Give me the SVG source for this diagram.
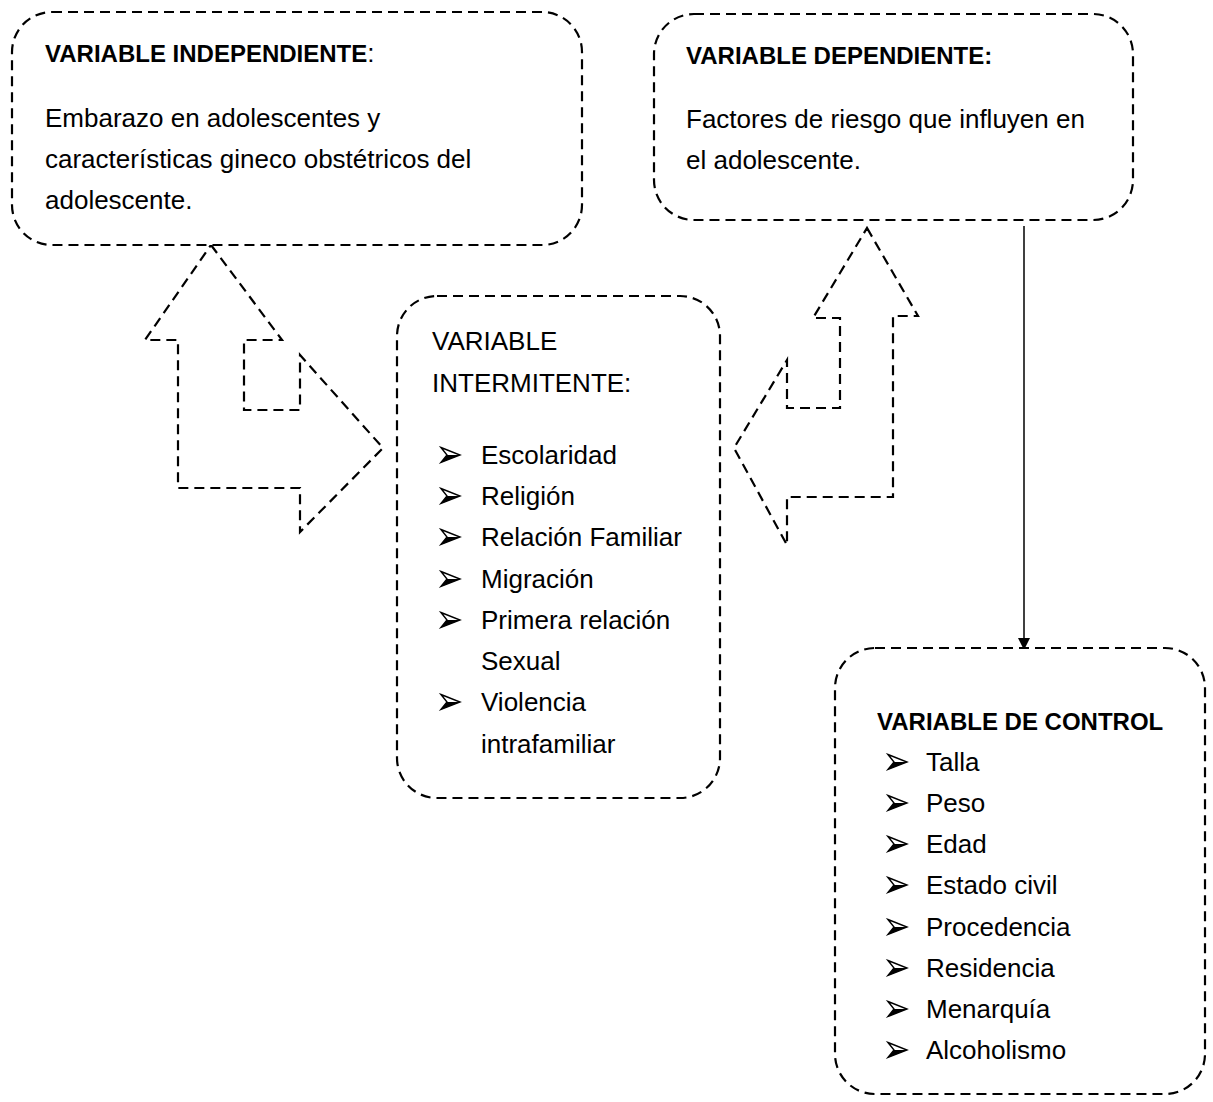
<svg xmlns="http://www.w3.org/2000/svg" width="1213" height="1102" viewBox="0 0 1213 1102">
<style>
.box{fill:#fff;stroke:#000;stroke-width:2.2;stroke-dasharray:10 6}
.arw{fill:none;stroke:#000;stroke-width:2.2;stroke-dasharray:10 6;stroke-linejoin:miter}
text{font-family:"Liberation Sans",Arial,sans-serif;font-size:26px;fill:#000}
.b{font-weight:bold;font-size:24px}
</style>
<defs>
<g id="bul">
<path d="M0,-7.5 L19,0 L0,7.5 L6,0 Z" fill="#fff" stroke="#000" stroke-width="1.4" stroke-linejoin="miter"/>
<path d="M19,0 L0,7.5 L6,0 Z" fill="#000"/>
</g>
<marker id="ah" markerWidth="12" markerHeight="12" refX="10" refY="6" orient="auto" markerUnits="userSpaceOnUse">
<path d="M0,0 L12,6 L0,12 Z" fill="#000"/>
</marker>
</defs>
<g id="connectors">
<polygon class="arw" points="211,245 282,340 244,340 244,410 300,410 300,355 383,448 300,532 300,488 178,488 178,340 145,340"/>
<polygon class="arw" points="867,228 918,316 893,316 893,497 787,497 787,545 734,448 787,360 787,408 840,408 840,318 813,318"/>
<line x1="1024" y1="226" x2="1024" y2="648" stroke="#000" stroke-width="1.5" marker-end="url(#ah)"/>
</g>
<g id="independiente">
<rect class="box" x="12" y="12" width="570" height="233" rx="40" ry="40"/>
<text x="45" y="62"><tspan class="b">VARIABLE INDEPENDIENTE</tspan>:</text>
<text x="45" y="127">Embarazo en adolescentes y</text>
<text x="45" y="168">características gineco obstétricos del</text>
<text x="45" y="209">adolescente.</text>
</g>
<g id="dependiente">
<rect class="box" x="654" y="14" width="479" height="206" rx="40" ry="40"/>
<text class="b" x="686" y="64">VARIABLE DEPENDIENTE:</text>
<text x="686" y="128">Factores de riesgo que influyen en</text>
<text x="686" y="169">el adolescente.</text>
</g>
<g id="intermitente">
<rect class="box" x="397" y="296" width="323" height="502" rx="40" ry="40"/>
<text x="432" y="350">VARIABLE</text>
<text x="432" y="392">INTERMITENTE:</text>
<use href="#bul" x="441" y="455"/><text x="481" y="464">Escolaridad</text>
<use href="#bul" x="441" y="496"/><text x="481" y="505">Religión</text>
<use href="#bul" x="441" y="537"/><text x="481" y="546">Relación Familiar</text>
<use href="#bul" x="441" y="579"/><text x="481" y="588">Migración</text>
<use href="#bul" x="441" y="620"/><text x="481" y="629">Primera relación</text>
<text x="481" y="670">Sexual</text>
<use href="#bul" x="441" y="702"/><text x="481" y="711">Violencia</text>
<text x="481" y="753">intrafamiliar</text>
</g>
<g id="control">
<rect class="box" x="835" y="648" width="370" height="446" rx="40" ry="40"/>
<text class="b" x="877" y="730">VARIABLE DE CONTROL</text>
<use href="#bul" x="888" y="762"/><text x="926" y="771">Talla</text>
<use href="#bul" x="888" y="803"/><text x="926" y="812">Peso</text>
<use href="#bul" x="888" y="844"/><text x="926" y="853">Edad</text>
<use href="#bul" x="888" y="885"/><text x="926" y="894">Estado civil</text>
<use href="#bul" x="888" y="927"/><text x="926" y="936">Procedencia</text>
<use href="#bul" x="888" y="968"/><text x="926" y="977">Residencia</text>
<use href="#bul" x="888" y="1009"/><text x="926" y="1018">Menarquía</text>
<use href="#bul" x="888" y="1050"/><text x="926" y="1059">Alcoholismo</text>
</g>
</svg>
